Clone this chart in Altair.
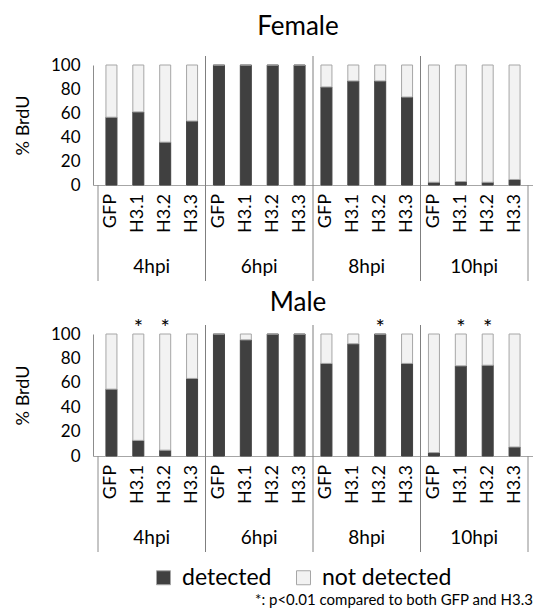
import altair as alt
import pandas as pd

groups = ["4hpi", "6hpi", "8hpi", "10hpi"]
cats = ["GFP", "H3.1", "H3.2", "H3.3"]

female_detected = [56.5, 60.9, 35.7, 53.3,
                   100, 100, 100, 100,
                   81.7, 86.7, 86.7, 73.3,
                   2.3, 2.9, 2.3, 4.6]
male_detected = [54.8, 12.8, 4.8, 63.6,
                 100, 95.2, 100, 100,
                 75.9, 92.0, 100, 75.9,
                 2.8, 73.9, 74.4, 7.4]
female_sig = [0] * 16
male_sig = [0, 1, 1, 0,
            0, 0, 0, 0,
            0, 0, 1, 0,
            0, 1, 1, 0]

FOOTNOTE = "*: p<0.01 compared to both GFP and H3.3"
FONT = "Lato"
W = 440

rows_cat = []
for gi, g in enumerate(groups):
    for ci, c in enumerate(cats):
        rows_cat.append({"group": g, "cat": c, "pos": gi * 4 + ci + 0.5})
cat_df = pd.DataFrame(rows_cat)
grp_df = pd.DataFrame({"group": groups, "center": [gi * 4 + 2 for gi in range(len(groups))]})
sep_df = pd.DataFrame({"b": [4, 8, 12]})
edge_df = pd.DataFrame({"b": [0, 16]})

xscale = alt.Scale(domain=[0, 16], nice=False, zero=False)
yscale = alt.Scale(domain=[0, 100], nice=False)
color_scale = alt.Scale(domain=["detected", "not detected"], range=["#404040", "#f2f2f2"])


def panel(title, detected, sig, H, title_offset):
    df = cat_df.copy()
    df["detected"] = detected
    df["sig"] = sig
    df["top"] = 100
    x = alt.X("pos:Q", scale=xscale, title=None)
    bars = alt.Chart(df).transform_calculate(
        **{"not detected": "100 - datum.detected"}
    ).transform_fold(["detected", "not detected"], as_=["status", "pct"]).mark_bar(
        size=11, strokeWidth=1
    ).encode(
        x=x,
        y=alt.Y("pct:Q", stack="zero", scale=yscale, title="% BrdU",
                axis=alt.Axis(values=[0, 20, 40, 60, 80, 100])),
        color=alt.Color("status:N", scale=color_scale,
                        legend=alt.Legend(title=None, orient="none", direction="horizontal",
                                          legendX=59, legendY=501,
                                          symbolType="square", symbolSize=196,
                                          symbolStrokeColor="#a6a6a6", symbolStrokeWidth=1,
                                          labelFontSize=23, labelColor="#000",
                                          labelOffset=7, columnPadding=20)),
        stroke=alt.condition(alt.datum.status == "not detected",
                             alt.value("#a6a6a6"), alt.value("#404040")),
        order=alt.Order("status:N", sort="ascending"),
    )
    seps = alt.Chart(sep_df).mark_rule(color="#7f7f7f", strokeWidth=1).encode(
        x=alt.X("b:Q", scale=xscale), y=alt.value(-9), y2=alt.value(H + 96))
    edges = alt.Chart(edge_df).mark_rule(color="#8c8c8c", strokeWidth=1).encode(
        x=alt.X("b:Q", scale=xscale), y=alt.value(H), y2=alt.value(H + 96))
    labels = alt.Chart(cat_df).mark_text(angle=270, align="right", baseline="middle",
                                         fontSize=18, color="#000").encode(
        x=alt.X("pos:Q", scale=xscale), y=alt.value(H + 9), text="cat:N")
    glabels = alt.Chart(grp_df).mark_text(baseline="alphabetic", fontSize=19,
                                          color="#000").encode(
        x=alt.X("center:Q", scale=xscale), y=alt.value(H + 88), text="group:N")
    stars = alt.Chart(df).transform_filter("datum.sig == 1").mark_text(
        text="*", fontSize=22, baseline="alphabetic", dy=1, color="#000").encode(
        x=alt.X("pos:Q", scale=xscale), y=alt.Y("top:Q", scale=yscale, title="% BrdU",
                                                 axis=alt.Axis(values=[0, 20, 40, 60, 80, 100])))
    return alt.layer(bars, seps, edges, labels, glabels, stars).properties(
        width=W, height=H,
        title=alt.TitleParams(title, fontSize=26, fontWeight="normal", color="#000",
                              anchor="middle", dx=-15, offset=title_offset))


female = panel("Female", female_detected, female_sig, 120, 16)
male = panel("Male", male_detected, male_sig, 122, 1)

chart = alt.vconcat(female, male, spacing=8).properties(
    padding={"left": 6, "right": 0, "top": 5, "bottom": 0},
    title=alt.TitleParams(FOOTNOTE, orient="bottom", anchor="end", fontSize=15,
                          fontWeight="normal", color="#000", offset=3),
).configure(font=FONT).configure_view(stroke=None).configure_axisX(
    labels=False, ticks=False, grid=False, domainColor="#a6a6a6", title=None
).configure_axisY(
    grid=False, ticks=False, domainColor="#8c8c8c", labelFontSize=17, labelColor="#000",
    labelOverlap=False, titleFontSize=18, titleFontWeight="normal", titleColor="#000",
    labelPadding=13, titlePadding=18
)

chart.save("out.html", embed_options={"renderer": "svg", "actions": False})
